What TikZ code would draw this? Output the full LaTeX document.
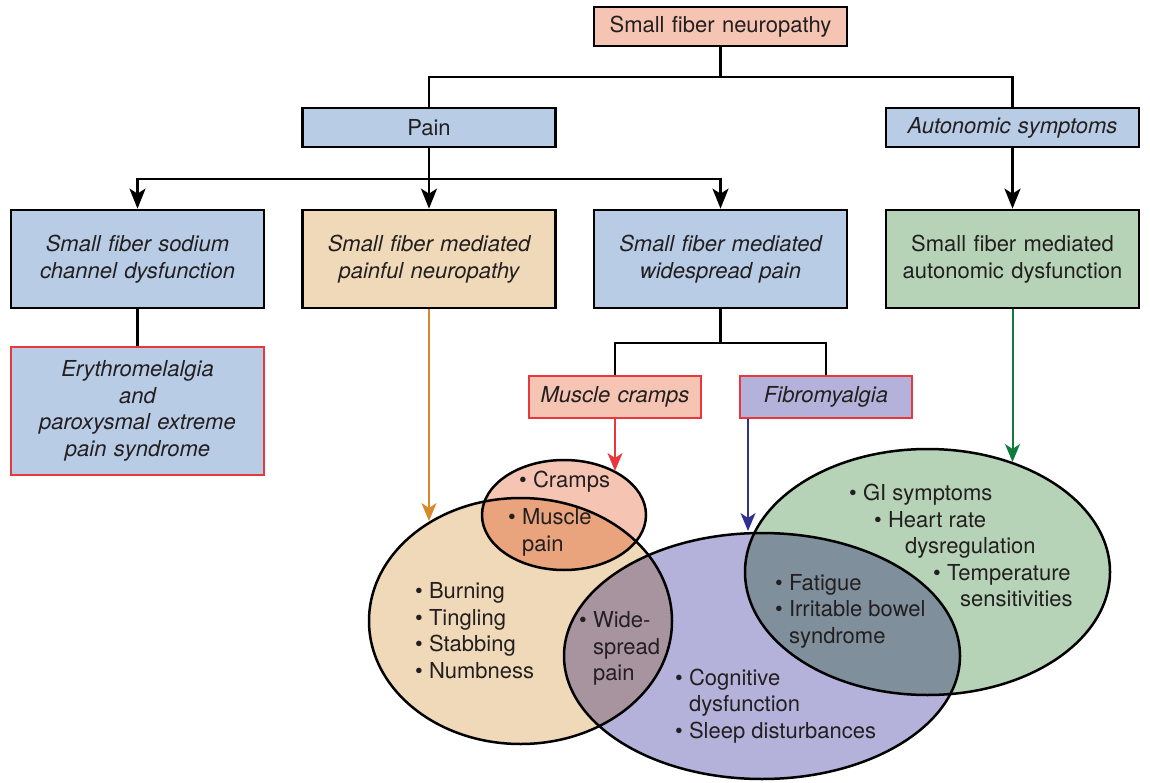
\documentclass[tikz,border=0pt]{standalone}
\usepackage{fontspec}
\setmainfont{TeX Gyre Heros}
\usepackage{tikz}
\usetikzlibrary{positioning}
\usetikzlibrary{arrows.meta}

\definecolor{ink}{HTML}{231F20}
\definecolor{pinkfill}{HTML}{F6C4B2}
\definecolor{bluefill}{HTML}{B9CCE6}
\definecolor{tanfill}{HTML}{F0D9B8}
\definecolor{greenfill}{HTML}{B6D3B7}
\definecolor{purplefill}{HTML}{B4B1DA}
\definecolor{crampmix}{HTML}{E9A47E}
\definecolor{tanpurple}{HTML}{A8949F}
\definecolor{purplegreen}{HTML}{7F8F9B}
\definecolor{redline}{HTML}{E8383D}
\definecolor{orangearrow}{HTML}{D8892B}
\definecolor{bluearrow}{HTML}{2E3191}
\definecolor{greenarrow}{HTML}{0F7B3D}

\newcommand{\sfbul}{\textbullet\ }
\newcommand{\sfgap}{\phantom{\textbullet\ }}

\tikzset{
	txt/.style   = {font=\fontsize{22}{26.5}\selectfont, text=ink},
	sfbox/.style = {txt, draw=black, line width=2.7pt, text width=253pt, align=center, inner sep=0pt},
	redbox/.style = {txt, draw=redline, line width=2.4pt, text width=172pt, align=center, inner sep=0pt, minimum height=42pt},
	vtext/.style = {txt, align=left, inner sep=0pt, anchor=west},
	link/.style  = {line width=2.6pt, draw=black},
	arr/.style   = {link, -{Stealth[length=20pt, width=16pt, inset=5pt]}},
	carr/.style  = {line width=2pt, -{Stealth[length=18pt, width=15pt, inset=5pt]}},
	ring/.style  = {draw=black, line width=2.5pt},
}

\begin{document}
\begin{tikzpicture}[x=1pt, y=-1pt]
	
	\useasboundingbox (0,0) rectangle (1150,783);
	
	% ELLIPSE GEOMETRY, CENTRES AND RADII IN PIXELS OF THE REFERENCE
	\def\elTan{(520.5,621) ellipse [x radius=151.5pt, y radius=123pt]}
	\def\elCramp{(564,515) ellipse [x radius=82pt, y radius=55pt]}
	\def\elPurple{(762,656) ellipse [x radius=198pt, y radius=123pt]}
	\def\elGreen{(927.5,572) ellipse [x radius=182.5pt, y radius=123pt]}
	
	%%%%%%%%%%%%%%%%%%%%%%%%%%%%%%%%%%%%%%%%%%%%%%%%%%%%%%%%%%%%%%
	% TREE OF BOXES
	\node[sfbox, fill=pinkfill, minimum height=39pt]  (SFN)  at (720.5,26.5) {Small fiber neuropathy};
	
	\node[sfbox, fill=bluefill, minimum height=39pt]  (Pain) at (429,127.5)   {Pain};
	\node[sfbox, fill=bluefill, minimum height=39pt]  (Auto) at (1012.5,127.5) {\itshape Autonomic symptoms};
	
	\node[sfbox, fill=bluefill,  minimum height=98pt] (Sod)  at (137.5,259)  {\itshape Small fiber sodium\\channel dysfunction};
	\node[sfbox, fill=tanfill,   minimum height=98pt] (Pfn)  at (429,259)    {\itshape Small fiber mediated\\painful neuropathy};
	\node[sfbox, fill=bluefill,  minimum height=98pt] (Wsp)  at (720.5,259)  {\itshape Small fiber mediated\\widespread pain};
	\node[sfbox, fill=greenfill, minimum height=98pt] (Adys) at (1012.5,259) {Small fiber mediated\\autonomic dysfunction};
	
	\node[sfbox, draw=redline, line width=2.4pt, fill=bluefill, minimum height=128pt] (Ery) at (137.5,411)
		{\itshape Erythromelalgia\\and\\paroxysmal extreme\\pain syndrome};
	
	\node[redbox, fill=pinkfill]   (Cramp) at (615,397) {\itshape Muscle cramps};
	\node[redbox, fill=purplefill] (Fibro) at (826,397) {\itshape Fibromyalgia};
	
	% JUNCTIONS OF THE ELBOW LINES
	\coordinate (J1) at (720.5,77);
	\coordinate (J2) at (429,179);
	\coordinate (J3) at (720.5,343);
	
	\draw[link] (SFN.south) -- (J1);
	\draw[link] (Pain.north) |- (J1) -| (Auto.north);
	\draw[link] (Pain.south) -- (J2);
	\draw[arr]  (J2) -| (Sod.north);
	\draw[arr]  (J2) -- (Pfn.north);
	\draw[arr]  (J2) -| (Wsp.north);
	\draw[arr]  (Auto.south) -- (Adys.north);
	\draw[link] (Sod.south) -- (Ery.north);
	\draw[link] (Wsp.south) -- (J3);
	\draw[link] (Cramp.north) |- (J3) -| (Fibro.north);
	
	%%%%%%%%%%%%%%%%%%%%%%%%%%%%%%%%%%%%%%%%%%%%%%%%%%%%%%%%%%%%%%
	% VENN PART: FILLS, THEN OVERLAPS, THEN OUTLINES
	\fill[tanfill]    \elTan;
	\fill[pinkfill]   \elCramp;
	\fill[purplefill] \elPurple;
	\fill[greenfill]  \elGreen;
	
	\begin{scope}
		\clip \elTan;
		\fill[crampmix]  \elCramp;
		\fill[tanpurple] \elPurple;
	\end{scope}
	\begin{scope}
		\clip \elPurple;
		\fill[purplegreen] \elGreen;
	\end{scope}
	
	\draw[ring] \elTan;
	\draw[ring] \elCramp;
	\draw[ring] \elPurple;
	\draw[ring] \elGreen;
	
	% ARROW ENDS ON THE ELLIPSES
	\coordinate (TipA) at (429,521);
	\coordinate (TipB) at (615,471);
	\coordinate (TipC) at (748,531);
	\coordinate (TipD) at (1012.5,462);
	
	\draw[carr, orangearrow] (Pfn.south) -- (TipA);
	\draw[carr, redline]     (Cramp.south) -- (TipB);
	\draw[carr, bluearrow]   (Fibro.south west -| TipC) -- (TipC);
	\draw[carr, greenarrow]  (Adys.south) -- (TipD);
	
	% LISTS INSIDE THE ELLIPSES
	\node[vtext] (LCramp) at (519,482)   {\sfbul Cramps};
	\node[vtext] (LMusc)  at (508,532.5) {\sfbul Muscle\\\sfgap pain};
	\node[vtext] (LTan)   at (415,630.5) {\sfbul Burning\\\sfbul Tingling\\\sfbul Stabbing\\\sfbul Numbness};
	\node[vtext] (LWide)  at (579,648.5) {\sfbul Wide-\\\sfgap spread\\\sfgap pain};
	\node[vtext] (LCog)   at (675,706)   {\sfbul Cognitive\\\sfgap dysfunction\\\sfbul Sleep disturbances};
	\node[vtext] (LFat)   at (775,611)   {\sfbul Fatigue\\\sfbul Irritable bowel\\\sfgap syndrome};
	\node[vtext] (LGI)    at (849,545.5)
		{\sfbul GI symptoms\\
		 \hspace*{25pt}\sfbul Heart rate\\
		 \hspace*{56pt}dysregulation\\
		 \hspace*{84pt}\sfbul Temperature\\
		 \hspace*{111pt}sensitivities};
	
\end{tikzpicture}
\end{document}
